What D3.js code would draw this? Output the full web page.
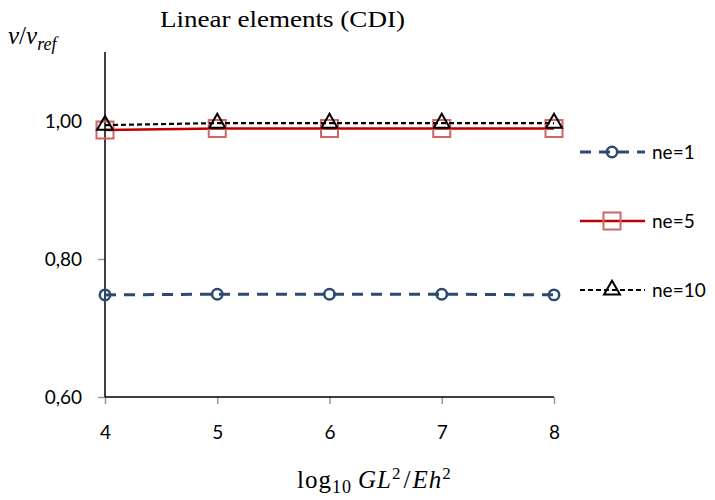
<!DOCTYPE html>
<html>
<head>
<meta charset="utf-8">
<script src="https://cdn.jsdelivr.net/npm/d3@7/dist/d3.min.js"></script>
<style>
	body { margin: 0; background: #fff; }
	.tick text { font-family: Lato, "Open Sans", sans-serif; font-size: 19px; fill: #000; }
	.tick line { stroke: #9a9a9a; stroke-width: 1.5; }
</style>
</head>
<body>
<div id="chart"></div>
<script>
// data
var xValues = [4, 5, 6, 7, 8];
var ne1 = [0.748, 0.749, 0.749, 0.749, 0.748];
var ne5 = [0.987, 0.989, 0.989, 0.989, 0.989];
var ne10 = [0.994, 0.997, 0.997, 0.997, 0.997];
var seriesNames = ["ne=1", "ne=5", "ne=10"];
var yTicks = [0.6, 0.8, 1.0];

var W = 715, H = 500;

var svg = d3.select("#chart").append("svg")
	.attr("width", W)
	.attr("height", H);

var x = d3.scaleLinear().domain([4, 8]).range([105, 554]);
var y = d3.scaleLinear().domain([0.6, 1.1]).range([397, 52]);

var fmt = function (d) { return d3.format(".2f")(d).replace(".", ","); };

// axes (ticks grey, axis lines black)
var yAxis = svg.append("g")
	.attr("transform", "translate(" + x(4) + ",0)")
	.call(d3.axisLeft(y).tickValues(yTicks).tickSize(7).tickPadding(16).tickFormat(fmt));
yAxis.select(".domain").remove();

var xAxis = svg.append("g")
	.attr("transform", "translate(0," + y(0.6) + ")")
	.call(d3.axisBottom(x).tickValues(xValues).tickSize(7).tickPadding(22).tickFormat(d3.format("d")));
xAxis.select(".domain").remove();

svg.append("line")
	.attr("x1", x(4)).attr("x2", x(4))
	.attr("y1", y(1.1)).attr("y2", y(0.6))
	.attr("stroke", "#000").attr("stroke-width", 1.5);
svg.append("line")
	.attr("x1", x(4)).attr("x2", x(8))
	.attr("y1", y(0.6)).attr("y2", y(0.6))
	.attr("stroke", "#000").attr("stroke-width", 1.5);

// series styles
var series = [
	{ name: seriesNames[0], values: ne1, stroke: "#2C4A70", width: 3, dash: "11,8",
		symbol: d3.symbolCircle, size: 85, mstroke: "#2C4A70", mwidth: 2.5 },
	{ name: seriesNames[1], values: ne5, stroke: "#C00000", width: 2.5, dash: null,
		symbol: d3.symbolSquare, size: 290, mstroke: "#D26565", mwidth: 2 },
	{ name: seriesNames[2], values: ne10, stroke: "#000", width: 2.2, dash: "5,3",
		symbol: d3.symbolTriangle, size: 110, mstroke: "#000", mwidth: 2 }
];

var line = d3.line()
	.x(function (d, i) { return x(xValues[i]); })
	.y(function (d) { return y(d); });

series.forEach(function (s) {
	svg.append("path")
		.datum(s.values)
		.attr("d", line)
		.attr("fill", "none")
		.attr("stroke", s.stroke)
		.attr("stroke-width", s.width)
		.attr("stroke-dasharray", s.dash);

	svg.selectAll(null)
		.data(s.values)
		.enter().append("path")
		.attr("d", d3.symbol().type(s.symbol).size(s.size))
		.attr("transform", function (d, i) { return "translate(" + x(xValues[i]) + "," + y(d) + ")"; })
		.attr("fill", "none")
		.attr("stroke", s.mstroke)
		.attr("stroke-width", s.mwidth);
});

// legend
var legendY = [152, 221, 290];
series.forEach(function (s, i) {
	var g = svg.append("g").attr("transform", "translate(0," + legendY[i] + ")");
	g.append("line")
		.attr("x1", 580).attr("x2", 645)
		.attr("stroke", s.stroke)
		.attr("stroke-width", s.width)
		.attr("stroke-dasharray", s.dash);
	g.append("path")
		.attr("d", d3.symbol().type(s.symbol).size(s.size))
		.attr("transform", "translate(612,0)")
		.attr("fill", "none")
		.attr("stroke", s.mstroke)
		.attr("stroke-width", s.mwidth);
	g.append("text")
		.attr("x", 652)
		.attr("dy", "0.35em")
		.style("font-family", "Lato, 'Open Sans', sans-serif")
		.style("font-size", "19px")
		.text(s.name);
});

// title
svg.append("text")
	.attr("x", 160)
	.attr("y", 27)
	.attr("textLength", 245)
	.attr("lengthAdjust", "spacingAndGlyphs")
	.style("font-family", "'Liberation Serif', 'DejaVu Serif', serif")
	.style("font-size", "24px")
	.text("Linear elements (CDI)");

// y axis label: v / v_ref
var yl = svg.append("text")
	.attr("x", 8)
	.attr("y", 44)
	.style("font-family", "'Liberation Serif', 'DejaVu Serif', serif")
	.style("font-size", "25px");
yl.append("tspan").style("font-style", "italic").text("v");
yl.append("tspan").text("/");
yl.append("tspan").style("font-style", "italic").text("v");
yl.append("tspan").attr("dy", 6).style("font-style", "italic").style("font-size", "18px").text("ref");

// x axis label: log10 GL^2 / Eh^2
var xl = svg.append("text")
	.attr("x", 297)
	.attr("y", 488)
	.style("font-family", "'Liberation Serif', 'DejaVu Serif', serif")
	.style("font-size", "25px")
	.style("letter-spacing", "1px");
xl.append("tspan").text("log");
xl.append("tspan").attr("dy", 5).style("font-size", "18px").text("10");
xl.append("tspan").attr("dy", -5).attr("dx", 6).style("font-style", "italic").text("GL");
xl.append("tspan").attr("dy", -9).style("font-size", "17px").text("2");
xl.append("tspan").attr("dy", 9).attr("dx", 2).text("/");
xl.append("tspan").attr("dx", 1).style("font-style", "italic").text("Eh");
xl.append("tspan").attr("dy", -9).style("font-size", "17px").text("2");
</script>
</body>
</html>
